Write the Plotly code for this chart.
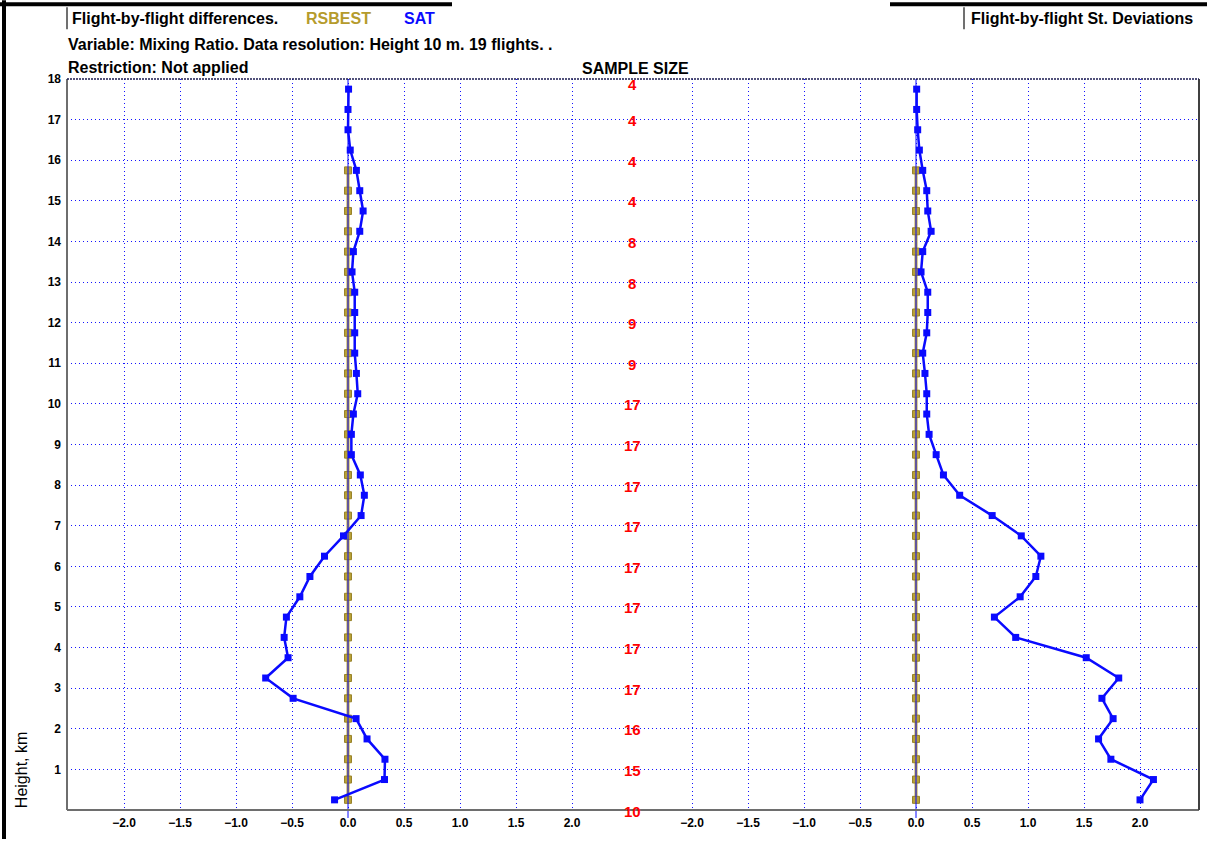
import plotly.graph_objects as go

# ---------------- data ----------------
heights = [17.75, 17.25, 16.75, 16.25, 15.75, 15.25, 14.75, 14.25, 13.75, 13.25,
           12.75, 12.25, 11.75, 11.25, 10.75, 10.25, 9.75, 9.25, 8.75, 8.25,
           7.75, 7.25, 6.75, 6.25, 5.75, 5.25, 4.75, 4.25, 3.75, 3.25,
           2.75, 2.25, 1.75, 1.25, 0.75, 0.25]
sat_diff = [0.005, 0.0, 0.0, 0.02, 0.075, 0.105, 0.135, 0.105, 0.048, 0.036,
            0.06, 0.06, 0.06, 0.06, 0.075, 0.087, 0.048, 0.03, 0.03, 0.11,
            0.146, 0.117, -0.04, -0.21, -0.34, -0.43, -0.55, -0.57, -0.535, -0.735,
            -0.49, 0.072, 0.17, 0.33, 0.326, -0.12]
sat_std = [0.006, 0.006, 0.015, 0.03, 0.06, 0.096, 0.105, 0.135, 0.06, 0.045,
           0.105, 0.105, 0.096, 0.06, 0.08, 0.096, 0.096, 0.117, 0.18, 0.245,
           0.39, 0.68, 0.94, 1.115, 1.07, 0.93, 0.70, 0.89, 1.52, 1.81,
           1.66, 1.76, 1.63, 1.74, 2.12, 2.00]

rs_heights = [15.75, 15.25, 14.75, 14.25, 13.75, 13.25, 12.75, 12.25, 11.75, 11.25,
              10.75, 10.25, 9.75, 9.25, 8.75, 8.25, 7.75, 7.25, 6.75, 6.25,
              5.75, 5.25, 4.75, 4.25, 3.75, 3.25, 2.75, 2.25, 1.75, 1.25,
              0.75, 0.25]
rs_diff = [0.0, 0.0, 0.0, 0.0, 0.0, 0.0, 0.0, 0.0, 0.0, 0.0,
           0.0, 0.0, 0.0, 0.0, 0.0, 0.0, 0.0, 0.0, 0.0, 0.0,
           0.0, 0.0, 0.0, 0.0, 0.0, 0.0, 0.0, 0.0, 0.0, 0.0,
           0.0, 0.0]
rs_std = [0.0, 0.0, 0.0, 0.0, 0.0, 0.0, 0.0, 0.0, 0.0, 0.0,
          0.0, 0.0, 0.0, 0.0, 0.0, 0.0, 0.0, 0.0, 0.0, 0.0,
          0.0, 0.0, 0.0, 0.0, 0.0, 0.0, 0.0, 0.0, 0.0, 0.0,
          0.0, 0.0]

sample_heights = [18, 17, 16, 15, 14, 13, 12, 11, 10, 9, 8, 7, 6, 5, 4, 3, 2, 1, 0]
sample_sizes = [4, 4, 4, 4, 8, 8, 9, 9, 17, 17, 17, 17, 17, 17, 17, 17, 16, 15, 10]

x_tickvals = [-2.0, -1.5, -1.0, -0.5, 0.0, 0.5, 1.0, 1.5, 2.0]
y_tickvals = [1, 2, 3, 4, 5, 6, 7, 8, 9, 10, 11, 12, 13, 14, 15, 16, 17, 18]

# ---------------- geometry (pixels) ----------------
W, H = 1213, 842
L, R, T, B = 67, 14, 79, 29
PW, PH = W - L - R, H - T - B
split_px = 632


def px(x):
    return (x - L) / PW


def py(y):
    return (H - B - y) / PH


BLUE = "#0a0aff"
OLIVE = "#b9a136"
GRID = "#1414ff"
FONT = "Liberation Sans, Arial, sans-serif"

fig = go.Figure()

# RSBEST traces
fig.add_trace(go.Scatter(x=rs_diff, y=rs_heights, mode="lines+markers", xaxis="x", yaxis="y",
                         line=dict(color=OLIVE, width=3),
                         marker=dict(symbol="square", size=7, color=OLIVE,
                                     line=dict(color="#98832a", width=1)),
                         showlegend=False, hoverinfo="skip"))
fig.add_trace(go.Scatter(x=rs_std, y=rs_heights, mode="lines+markers", xaxis="x2", yaxis="y",
                         line=dict(color=OLIVE, width=3),
                         marker=dict(symbol="square", size=7, color=OLIVE,
                                     line=dict(color="#98832a", width=1)),
                         showlegend=False, hoverinfo="skip"))

# SAT traces
fig.add_trace(go.Scatter(x=sat_diff, y=heights, mode="lines+markers", xaxis="x", yaxis="y",
                         line=dict(color=BLUE, width=2.5),
                         marker=dict(symbol="square", size=7, color=BLUE),
                         showlegend=False, hoverinfo="skip"))
fig.add_trace(go.Scatter(x=sat_std, y=heights, mode="lines+markers", xaxis="x2", yaxis="y",
                         line=dict(color=BLUE, width=2.5),
                         marker=dict(symbol="square", size=7, color=BLUE),
                         showlegend=False, hoverinfo="skip"))

axis_common = dict(
    showgrid=True, gridcolor=GRID, gridwidth=1, griddash="1px,3px",
    zeroline=False, showline=False, ticks="",
    tickvals=x_tickvals, tickformat=".1f",
    tickfont=dict(family=FONT, size=12, color="#000000", weight="bold"),
    ticklabelstandoff=4, fixedrange=True,
)

fig.update_layout(
    width=W, height=H,
    margin=dict(l=L, r=R, t=T, b=B, pad=0),
    paper_bgcolor="white", plot_bgcolor="white",
    xaxis=dict(domain=[0, px(split_px)],
               range=[(L - 348) / 112.0, (split_px - 348) / 112.0],
               anchor="y", **axis_common),
    xaxis2=dict(domain=[px(split_px), 1],
                range=[(split_px - 916) / 112.0, (W - R - 916) / 112.0],
                anchor="y", **axis_common),
    yaxis=dict(range=[0, 18], tickvals=y_tickvals,
               showgrid=True, gridcolor=GRID, gridwidth=1, griddash="1px,3px",
               zeroline=False, showline=False, ticks="",
               tickfont=dict(family=FONT, size=12, color="#000000", weight="bold"),
               ticklabelstandoff=5, fixedrange=True),
    showlegend=False,
)

shapes = []
# zero lines (blue), extend slightly below the axis
for xr in ["x", "x2"]:
    shapes.append(dict(type="line", xref=xr, yref="paper", x0=0, x1=0,
                       y0=py(821), y1=1, line=dict(color=BLUE, width=1), layer="above"))
# frame
shapes.append(dict(type="line", xref="paper", yref="paper", x0=0, x1=0, y0=0, y1=1,
                   line=dict(color="#6e6e6e", width=2), layer="above"))
shapes.append(dict(type="line", xref="paper", yref="paper", x0=0, x1=1, y0=0, y1=0,
                   line=dict(color="#6e6e6e", width=2), layer="above"))
shapes.append(dict(type="line", xref="paper", yref="paper", x0=1, x1=1, y0=0, y1=1,
                   line=dict(color="#404040", width=2), layer="above"))
shapes.append(dict(type="line", xref="paper", yref="paper", x0=0, x1=1, y0=1, y1=1,
                   line=dict(color="#1a1a50", width=1.5, dash="2px,1px"), layer="above"))
# window-like outer strokes
shapes.append(dict(type="rect", xref="paper", yref="paper", x0=px(2), x1=px(6),
                   y0=py(H), y1=py(0), fillcolor="#000000", line=dict(width=0)))
shapes.append(dict(type="line", xref="paper", yref="paper", x0=px(0), x1=px(452),
                   y0=py(4), y1=py(4), line=dict(color="#000000", width=4)))
shapes.append(dict(type="line", xref="paper", yref="paper", x0=px(890), x1=px(1207),
                   y0=py(4), y1=py(4), line=dict(color="#000000", width=4)))
# header box left edges
shapes.append(dict(type="line", xref="paper", yref="paper", x0=px(67), x1=px(67),
                   y0=py(7), y1=py(29), line=dict(color="#404040", width=1.5)))
shapes.append(dict(type="line", xref="paper", yref="paper", x0=px(964), x1=px(964),
                   y0=py(7), y1=py(29), line=dict(color="#404040", width=1.5)))
fig.update_layout(shapes=shapes)

annotations = []


def txt(text, x, y, color="#000000", size=16, bold=True, xanchor="left"):
    annotations.append(dict(text=text, xref="paper", yref="paper", x=px(x), y=py(y),
                            xanchor=xanchor, yanchor="middle", showarrow=False,
                            font=dict(family=FONT, size=size, color=color,
                                      weight="bold" if bold else "normal")))


txt("Flight-by-flight differences.", 70, 18)
txt("RSBEST", 304, 18, color="#b59b2c")
txt("SAT", 402, 18, color=BLUE)
txt("Variable: Mixing Ratio. Data resolution: Height 10 m. 19 flights. .", 66, 44)
txt("Restriction: Not applied", 66, 67)
txt("SAMPLE SIZE", 635, 68, xanchor="center")
txt("Flight-by-flight St. Deviations", 969, 18)

annotations.append(dict(text="Height, km", xref="paper", yref="paper", x=px(21), y=py(773),
                        xanchor="center", yanchor="middle", textangle=-90, showarrow=False,
                        font=dict(family=FONT, size=16, color="#000000")))

for i, (h, n) in enumerate(zip(sample_heights, sample_sizes)):
    annotations.append(dict(text=str(n), xref="paper", yref="y", x=px(split_px), y=h,
                            xanchor="center", yanchor="middle", showarrow=False,
                            yshift=-5 if i == 0 else -1,
                            font=dict(family=FONT, size=15, color="#ff0000", weight="bold")))

fig.update_layout(annotations=annotations)

fig.write_html("out.html", config={"displayModeBar": False},
               post_script="document.body.style.margin='0';")
